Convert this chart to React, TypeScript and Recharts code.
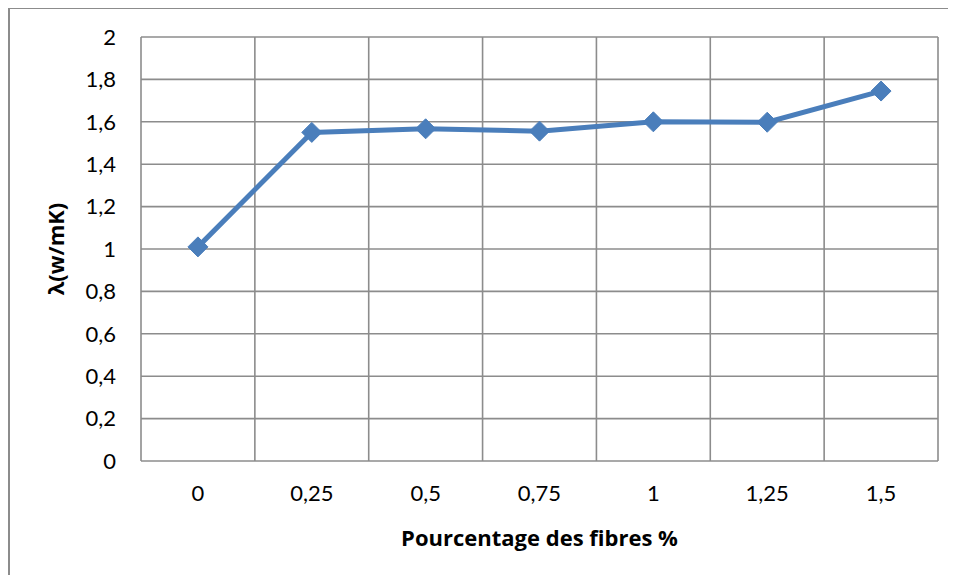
import { LineChart, Line, XAxis, YAxis, CartesianGrid } from 'recharts';

const categories = ['0', '0,25', '0,5', '0,75', '1', '1,25', '1,5'];
const lambdaValues = [1.01, 1.55, 1.567, 1.556, 1.6, 1.598, 1.745];
const yTicks = [0, 0.2, 0.4, 0.6, 0.8, 1, 1.2, 1.4, 1.6, 1.8, 2];

const data = categories.map((c, i) => ({ pct: c, lambda: lambdaValues[i] }));

const FONT = 'Lato, "Open Sans", sans-serif';
const TITLE_FONT = '"Open Sans", Lato, sans-serif';
const BLUE = '#4a7ebb';
const GRID = '#8c8c8c';

const Diamond = (props: any) => {
  const { cx, cy } = props;
  if (cx == null || cy == null) return null;
  const r = 10;
  return (
    <polygon
      points={`${cx},${cy - r} ${cx + r},${cy} ${cx},${cy + r} ${cx - r},${cy}`}
      fill={BLUE}
      stroke={BLUE}
    />
  );
};

const App = () => {
  return (
    <div
      style={{
        width: 948,
        height: 568,
        marginTop: -1,
        borderLeft: `2px solid ${GRID}`,
        borderTop: `2px solid ${GRID}`,
        boxSizing: 'border-box',
        background: '#fff',
      }}
    >
      <LineChart
        width={946}
        height={566}
        data={data}
        margin={{ top: 28, right: 18, left: 0, bottom: 0 }}
      >
        <CartesianGrid
          stroke={GRID}
          strokeWidth={1.6}
          horizontal
          vertical
          verticalCoordinatesGenerator={({ offset }: any) =>
            categories.concat(['']).map((_, i) => offset.left + (i * offset.width) / categories.length)
          }
        />
        <XAxis
          dataKey="pct"
          scale="band"
          axisLine={false}
          tickLine={false}
          tickSize={0}
          tickMargin={24}
          height={114}
          tick={{ fill: '#000', fontSize: 22, fontFamily: FONT }}
          label={{
            value: 'Pourcentage des fibres %',
            position: 'insideBottom',
            offset: 29,
            fill: '#000',
            fontSize: 22,
            fontWeight: 700,
            fontFamily: TITLE_FONT,
          }}
        />
        <YAxis
          domain={[0, 2]}
          ticks={yTicks}
          interval={0}
          width={131}
          axisLine={false}
          tickLine={false}
          tickSize={0}
          tickMargin={25}
          tickFormatter={(v: number) => String(v).replace('.', ',')}
          tick={{ fill: '#000', fontSize: 22, fontFamily: FONT }}
          label={{
            content: ({ viewBox }: any) => {
              const cy = viewBox.y + viewBox.height / 2;
              const cx = 45;
              return (
                <text
                  x={cx}
                  y={cy}
                  transform={`rotate(-90, ${cx}, ${cy})`}
                  textAnchor="middle"
                  dominantBaseline="central"
                  fill="#000"
                  fontSize={22}
                  fontWeight={700}
                  fontFamily={TITLE_FONT}
                >
                  λ(w/mK)
                </text>
              );
            },
          }}
        />
        <Line
          type="linear"
          dataKey="lambda"
          stroke={BLUE}
          strokeWidth={5}
          dot={<Diamond />}
          activeDot={false}
          isAnimationActive={false}
        />
      </LineChart>
    </div>
  );
};

export default App;
